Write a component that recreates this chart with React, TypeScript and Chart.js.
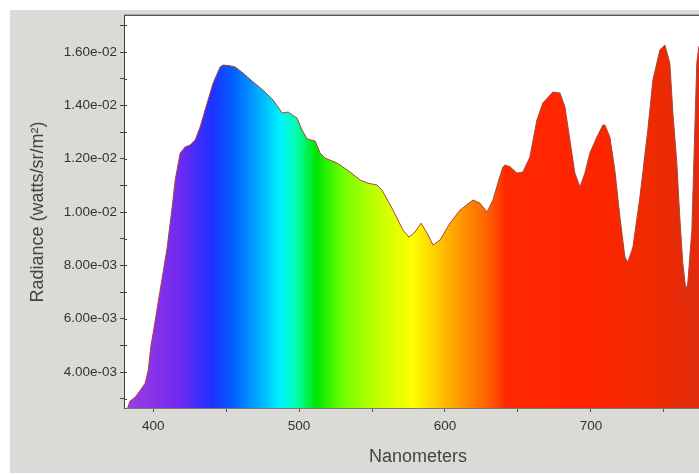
import React, { useEffect, useRef } from "react";
import { Chart, registerables } from "chart.js";

Chart.register(...registerables);

// Wavelength (nm) of each sample
const WAVELENGTHS = [
  382.5, 384, 387.7, 391, 394.5, 396.6, 398.5, 400, 404.8, 409.6, 413.0, 415.1, 418.5, 421.9, 425.3,
  428.8, 432.2, 437.0, 441.1, 445.9, 447.9, 452, 456.2, 461.6, 468, 475.3, 482.2, 488.4, 492.5,
  498.6, 502.1, 505.5, 511.0, 514.4, 517.8, 526.0, 534.9, 541.8, 546.6, 553.4, 556.8, 564.4,
  571.2, 575.3, 579.5, 583.6, 587.7, 591.8, 596.6, 603.4, 610.3, 619.2, 624.0, 628.8, 632.9,
  636.3, 639.7, 641.1, 644.5, 649.3, 653.4, 658.2, 663.0, 667.1, 674.0, 678.8, 682.2, 685.6,
  689.0, 692.5, 695.9, 699.3, 704.1, 708.2, 709.6, 713.0, 716.4, 719.9, 723.3, 725.3, 728.8,
  733.6, 739.0, 742.5, 747.3, 750.7, 754.1, 756.2, 758.9, 760.9, 763.0, 765.1, 766.4, 769.2,
  771.2, 772.6, 774, 776, 781, 783,
];

// Radiance (watts/sr/m²)
const RADIANCE = [
  0.00265, 0.0029, 0.00306, 0.0033, 0.00358, 0.00407, 0.0050, 0.00546, 0.00707, 0.00868, 0.01018,
  0.0112, 0.01221, 0.01244, 0.01251, 0.0127, 0.01319, 0.01409, 0.01484, 0.01544, 0.01551, 0.01549,
  0.01544, 0.01521, 0.0149, 0.01457, 0.0142, 0.01371, 0.01375, 0.01352, 0.01307, 0.01274, 0.01266,
  0.01221, 0.01202, 0.01184, 0.0115, 0.0112, 0.01109, 0.01101, 0.01082, 0.01007, 0.00932, 0.00906,
  0.00925, 0.00958, 0.00921, 0.00876, 0.00895, 0.00958, 0.01007, 0.01045, 0.01033, 0.01, 0.01045,
  0.01109, 0.01169, 0.01176, 0.0117, 0.01146, 0.0115, 0.01206, 0.01345, 0.01409, 0.0145, 0.01446,
  0.01394, 0.0127, 0.01146, 0.01094, 0.01146, 0.01221, 0.01281, 0.01326, 0.01326, 0.01281, 0.01157,
  0.00981, 0.00831, 0.00812, 0.00868, 0.01056, 0.01307, 0.01495, 0.01608, 0.01626, 0.01559, 0.01371,
  0.01184, 0.00981, 0.00808, 0.00707, 0.00733, 0.00932, 0.01307, 0.01559, 0.0162, 0.0164, 0.0158,
  0.0152,
];

const X_MIN = 380;
const X_MAX = 783;
const X_STEP = 50;
const Y_MIN = 0.00265;
const Y_MAX = 0.01735;
const Y_STEP = 0.001;

const X_TITLE = "Nanometers";
const Y_TITLE = "Radiance (watts/sr/m²)";

// spectrum colours along the wavelength axis
const SPECTRUM_NM = [380, 400, 420, 440, 455, 470, 487, 498, 512, 530, 550, 578, 595, 612, 628, 637, 642, 700, 740, 783];
const SPECTRUM_COLORS = [
  "#9a40e0", "#8a32e8", "#6a2af2", "#1e30ff", "#0060ff", "#00a0ff", "#00f2ff", "#00ffb0", "#00e600",
  "#70ff00", "#b8ff00", "#ffff00", "#ffc800", "#ff9400", "#ff6400", "#ff4000", "#ff2800", "#ff2400",
  "#f02a00", "#dc2c10",
];

const FONT = "'Liberation Sans', Arial, sans-serif";

function fmtExp(v: number): string {
  const s = v.toExponential(2);
  const [m, e] = s.split("e");
  const sign = e[0] === "-" ? "-" : "+";
  const n = Math.abs(parseInt(e, 10));
  return `${m}e${sign}${String(n).padStart(2, "0")}`;
}

const frame = {
  id: "frame",
  beforeDraw(chart: any) {
    const { ctx, chartArea: a } = chart;
    ctx.save();
    ctx.fillStyle = "#ffffff";
    ctx.fillRect(a.left, a.top, a.right - a.left, a.bottom - a.top);
    ctx.restore();
  },
  afterDraw(chart: any) {
    const { ctx, chartArea: a, scales } = chart;
    ctx.save();
    ctx.strokeStyle = "#a9a7a4";
    ctx.lineWidth = 1;
    ctx.beginPath();
    ctx.moveTo(a.left, a.top - 1.5);
    ctx.lineTo(a.right, a.top - 1.5);
    ctx.stroke();
    ctx.strokeStyle = "#555555";
    ctx.beginPath();
    ctx.moveTo(a.left, a.top - 0.5);
    ctx.lineTo(a.right, a.top - 0.5);
    ctx.stroke();
    // inner halves of the y ticks
    ctx.strokeStyle = "#444444";
    scales.y.ticks.forEach((t: any) => {
      const y = Math.round(scales.y.getPixelForValue(t.value)) + 0.5;
      ctx.beginPath();
      ctx.moveTo(a.left, y);
      ctx.lineTo(a.left + 3, y);
      ctx.stroke();
    });
    ctx.restore();
  },
};

export default function App() {
  const ref = useRef<HTMLCanvasElement | null>(null);

  useEffect(() => {
    if (!ref.current) return;
    const points = WAVELENGTHS.map((x, i) => ({ x, y: RADIANCE[i] }));
    const chart = new Chart(ref.current, {
      type: "line",
      data: {
        datasets: [
          {
            data: points,
            borderColor: "#a8463a",
            borderWidth: 1,
            pointRadius: 0,
            tension: 0,
            fill: "start",
            backgroundColor: (ctx: any) => {
              const c = ctx.chart;
              const sx = c.scales?.x;
              if (!c.chartArea || !sx) return "#ff3000";
              const x0 = sx.getPixelForValue(SPECTRUM_NM[0]);
              const x1 = sx.getPixelForValue(SPECTRUM_NM[SPECTRUM_NM.length - 1]);
              const g = c.ctx.createLinearGradient(x0, 0, x1, 0);
              const span = SPECTRUM_NM[SPECTRUM_NM.length - 1] - SPECTRUM_NM[0];
              SPECTRUM_NM.forEach((nm, i) => g.addColorStop((nm - SPECTRUM_NM[0]) / span, SPECTRUM_COLORS[i]));
              return g;
            },
          },
        ],
      },
      options: {
        animation: false,
        responsive: false,
        layout: { padding: { top: 6, left: 0, right: 0, bottom: 0 } },
        plugins: { legend: { display: false }, tooltip: { enabled: false } },
        scales: {
          x: {
            type: "linear",
            min: X_MIN,
            max: X_MAX,
            afterFit: (s: any) => {
              s.height = 65;
              s.paddingLeft = 0;
              s.paddingRight = 0;
            },
            border: { display: true, color: "#7a7a7a", width: 1 },
            grid: { drawOnChartArea: false, drawTicks: true, tickLength: 4, color: "#555555" },
            ticks: {
              stepSize: X_STEP,
              includeBounds: false,
              padding: 6,
              color: "#333333",
              font: { family: FONT, size: 13.5 },
              maxRotation: 0,
              autoSkip: false,
              callback: (v: any) => (Math.round(Number(v)) % 100 === 0 ? String(Math.round(Number(v))) : ""),
            },
            title: {
              display: true,
              text: X_TITLE,
              color: "#444444",
              font: { family: FONT, size: 18 },
              padding: { top: 10, bottom: 5 },
            },
          },
          y: {
            type: "linear",
            min: Y_MIN,
            max: Y_MAX,
            afterFit: (s: any) => {
              s.width = 114;
              s.paddingTop = 0;
              s.paddingBottom = 0;
            },
            border: { display: true, color: "#3c3c3c", width: 1 },
            grid: { drawOnChartArea: false, drawTicks: true, tickLength: 4, color: "#444444" },
            ticks: {
              stepSize: Y_STEP,
              includeBounds: false,
              autoSkip: false,
              padding: 3,
              color: "#333333",
              font: { family: FONT, size: 13.5 },
              callback: (v: any) => (Math.round(Number(v) * 1000) % 2 === 0 ? fmtExp(Number(v)) : ""),
            },
            title: {
              display: true,
              text: Y_TITLE,
              color: "#444444",
              font: { family: FONT, size: 18 },
              padding: { top: 17, bottom: 0 },
            },
          },
        },
      },
      plugins: [frame],
    } as any);
    return () => chart.destroy();
  }, []);

  return (
    <div
      style={{
        position: "fixed",
        left: 0,
        top: 0,
        width: 699,
        height: 475,
        overflow: "hidden",
        background: "#ffffff",
      }}
    >
      <div
        style={{
          position: "absolute",
          left: 10,
          top: 10,
          width: 702,
          height: 463,
          background: "#dcdad6",
        }}
      >
        <canvas ref={ref} width={702} height={463} style={{ display: "block", width: 702, height: 463 }} />
      </div>
    </div>
  );
}
